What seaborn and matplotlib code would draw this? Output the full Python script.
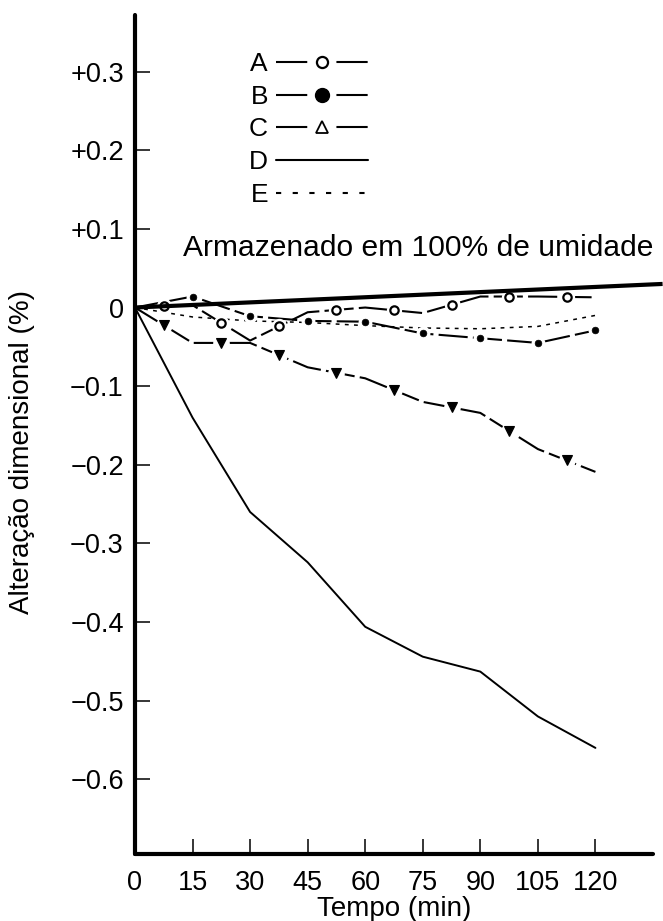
import numpy as np
import matplotlib
matplotlib.use("Agg")
import matplotlib.pyplot as plt
import seaborn as sns
from matplotlib.lines import Line2D

# ---- data ----
times = [0, 15, 30, 45, 60, 75, 90, 105, 120]
serie_a = [0, 0.003, -0.042, -0.006, 0.000, -0.007, 0.014, 0.014, 0.013]
serie_b = [0, 0.014, -0.011, -0.017, -0.018, -0.033, -0.039, -0.045, -0.029]
serie_c = [0, -0.045, -0.045, -0.076, -0.090, -0.120, -0.134, -0.180, -0.209]
serie_d = [0, -0.140, -0.260, -0.324, -0.406, -0.444, -0.463, -0.520, -0.560]
serie_e = [0, -0.012, -0.017, -0.019, -0.023, -0.026, -0.027, -0.024, -0.010]
ref_t = [0, 137.5]
ref_v = [0, 0.03]

series_labels = ["A", "B", "C", "D", "E"]
x_ticks = [0, 15, 30, 45, 60, 75, 90, 105, 120]
x_tick_labels = ["0", "15", "30", "45", "60", "75", "90", "105", "120"]
y_ticks = [0.3, 0.2, 0.1, 0.0, -0.1, -0.2, -0.3, -0.4, -0.5, -0.6]
y_tick_labels = ["+0.3", "+0.2", "+0.1", "0", "\u22120.1", "\u22120.2", "\u22120.3",
                 "\u22120.4", "\u22120.5", "\u22120.6"]
annotation = "Armazenado em 100% de umidade"
x_label = "Tempo (min)"
y_label = "Alteração dimensional (%)"

# ---- style ----
sns.set_theme(style="ticks")
plt.rcParams["font.family"] = ["Liberation Sans", "DejaVu Sans"]
plt.rcParams["axes.edgecolor"] = "black"
plt.rcParams["xtick.color"] = "black"
plt.rcParams["ytick.color"] = "black"
plt.rcParams["text.color"] = "black"
plt.rcParams["axes.labelcolor"] = "black"

fig = plt.figure(figsize=(6.63, 9.21), dpi=100)
ax = fig.add_axes([0.2036, 0.0727, 0.7813, 0.911])

t = np.array(times, dtype=float)


def midpoints(v):
    v = np.asarray(v, dtype=float)
    return (t[:-1] + t[1:]) / 2, (v[:-1] + v[1:]) / 2


def halo(xs, ys, size):
    ax.plot(xs, ys, linestyle="none", marker="o", ms=size, mfc="white",
            mec="white", mew=0, zorder=4)


# D: solid
sns.lineplot(x=times, y=serie_d, ax=ax, color="black", linewidth=1.4,
             estimator=None, sort=False, zorder=3)
# E: fine dashes
sns.lineplot(x=times, y=serie_e, ax=ax, color="black", linewidth=1.1,
             linestyle=(0, (2.5, 3.5)), estimator=None, sort=False, zorder=3)
# A: long dashes with open circles between measurements
sns.lineplot(x=times, y=serie_a, ax=ax, color="black", linewidth=1.5,
             linestyle=(0, (14, 2.5)), estimator=None, sort=False, zorder=3)
ma_t, ma_v = midpoints(serie_a)
halo(ma_t, ma_v, 11)
ax.plot(ma_t, ma_v, linestyle="none", marker="o", ms=6, mfc="white",
        mec="black", mew=1.6, zorder=5)
# B: filled dots at measurements
sns.lineplot(x=times, y=serie_b, ax=ax, color="black", linewidth=1.5,
             linestyle=(0, (14, 2.5)), estimator=None, sort=False, zorder=3)
halo(times[1:], serie_b[1:], 10)
ax.plot(times[1:], serie_b[1:], linestyle="none", marker="o", ms=4.8,
        mfc="black", mec="black", mew=0.5, zorder=5)
# C: long dashes with triangles between measurements
sns.lineplot(x=times, y=serie_c, ax=ax, color="black", linewidth=1.5,
             linestyle=(0, (14, 2.5)), estimator=None, sort=False, zorder=3)
mc_t, mc_v = midpoints(serie_c)
halo(mc_t, mc_v, 12)
ax.plot(mc_t, mc_v, linestyle="none", marker="v", ms=7.5, mfc="black",
        mec="black", mew=0.8, zorder=5)

# thick reference line at zero
ax.plot(ref_t, ref_v, color="black", linewidth=3.0, solid_capstyle="butt",
        clip_on=False, zorder=6)

# ---- axes ----
ax.set_xlim(0, 135)
ax.set_ylim(-0.695, 0.372)
for side in ["top", "right"]:
    ax.spines[side].set_visible(False)
for side in ["left", "bottom"]:
    ax.spines[side].set_linewidth(3.0)
    ax.spines[side].set_capstyle("round")
ax.set_xticks(x_ticks)
ax.set_xticklabels(x_tick_labels)
ax.set_yticks(y_ticks)
ax.set_yticklabels(y_tick_labels)
ax.tick_params(axis="both", direction="in", length=11, width=1.1,
               labelsize=19.5)
ax.tick_params(axis="x", pad=11.5)
ax.tick_params(axis="y", pad=8)
ax.grid(False)

ax.set_xlabel(x_label, fontsize=20)
ax.xaxis.set_label_coords(0.5, -0.0505)
ax.set_ylabel(y_label, fontsize=20)
ax.yaxis.set_label_coords(-0.193, 0.479)

ax.text(12.5, 0.076, annotation, fontsize=21.6, ha="left", va="center")

# ---- legend (label first, then line sample) ----
handles = [
    Line2D([], [], color="black", lw=1.5, dashes=(15, 14), marker="o", ms=8,
           mfc="white", mec="black", mew=1.6),
    Line2D([], [], color="black", lw=1.5, dashes=(15, 14), marker="o", ms=10,
           mfc="black", mec="black"),
    Line2D([], [], color="black", lw=1.5, dashes=(15, 14), marker="^", ms=8,
           mfc="white", mec="black", mew=1.3),
    Line2D([], [], color="black", lw=1.5),
    Line2D([], [], color="black", lw=1.5, dashes=(2.5, 5.5)),
]
ax.legend(handles, series_labels, loc="upper left",
          bbox_to_anchor=(0.3756, 0.9435), bbox_transform=fig.transFigure,
          frameon=False, markerfirst=False, handlelength=3.5,
          handletextpad=0.3, labelspacing=0.33, fontsize=19, borderpad=0,
          borderaxespad=0, numpoints=1)

fig.savefig("out.png", dpi=100)
